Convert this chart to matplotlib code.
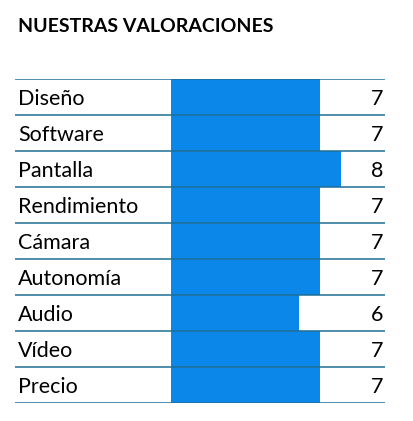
import matplotlib.pyplot as plt

categories = ["Diseño", "Software", "Pantalla", "Rendimiento", "Cámara",
              "Autonomía", "Audio", "Vídeo", "Precio"]
scores = [7, 7, 8, 7, 7, 7, 6, 7, 7]

W, H = 413, 421
fig = plt.figure(figsize=(W / 100, H / 100), dpi=100)
plt.rcParams["font.family"] = ["Lato", "DejaVu Sans"]

# axes in pixel coords: x 15..385, y 79..403
left, right, top, bottom = 15, 385, 79, 403
ax = fig.add_axes([left / W, 1 - bottom / H, (right - left) / W, (bottom - top) / H])
px = 21.3
ax.set_xlim(-(171 - left) / px, (right - 171) / px)
n = len(categories)
ax.set_ylim(n, 0)
ax.axis("off")

ys = range(n)
ax.barh([y + 0.5 for y in ys], scores, height=1.0, left=0, color="#0A87E8", zorder=1)
for y in range(n + 1):
    ax.axhline(y, color="#1F6F94", lw=1.1, zorder=2)
for y, (c, s) in enumerate(zip(categories, scores)):
    ax.text(-(171 - left - 3) / px, y + 0.55, c, ha="left", va="center", fontsize=15.5)
    ax.text((right - 171 - 2) / px, y + 0.55, str(s), ha="right", va="center", fontsize=15.5)

fig.text(18 / W, 1 - 26 / H, "NUESTRAS VALORACIONES", fontsize=14, fontweight="bold",
         ha="left", va="center")

fig.savefig("out.png", dpi=100)
